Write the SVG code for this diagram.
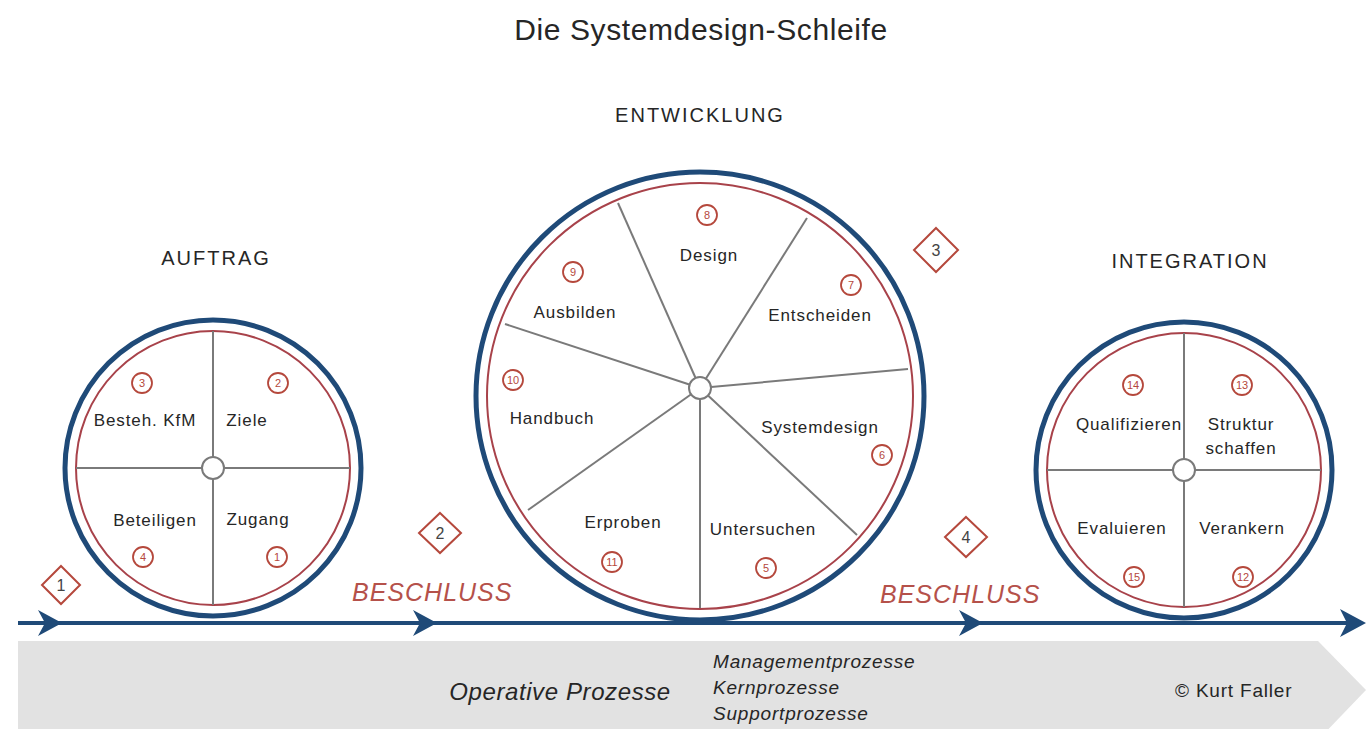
<svg xmlns="http://www.w3.org/2000/svg" width="1366" height="729" viewBox="0 0 1366 729">
<defs>
<style>
.t{font-family:"Liberation Sans",Arial,sans-serif;fill:#262626}
.title{font-size:30px;letter-spacing:0.6px}
.phase{font-size:20px;letter-spacing:2px}
.lbl{font-size:17px;letter-spacing:0.9px}
.num{font-family:"Liberation Sans",Arial,sans-serif;font-size:11px;fill:#b5483c;text-anchor:middle}
.nc{fill:#fff;stroke:#b5483c;stroke-width:1.8}
.outer{fill:#fff;stroke:#1f4a78;stroke-width:5}
.inner{fill:none;stroke:#a8424a;stroke-width:2}
.spoke{stroke:#7a7a7a;stroke-width:2}
.hub{fill:#fff;stroke:#7a7a7a;stroke-width:2}
.dia{fill:#fff;stroke:#b5483c;stroke-width:2}
.dnum{font-family:"Liberation Sans",Arial,sans-serif;font-size:16px;fill:#444;text-anchor:middle}
.besch{font-family:"Liberation Sans",Arial,sans-serif;font-size:25px;font-style:italic;fill:#b5514a;letter-spacing:1px}
.it{font-family:"Liberation Sans",Arial,sans-serif;font-style:italic;fill:#262626}
.ah{fill:#1f4a78}
</style>
</defs>
<rect width="1366" height="729" fill="#fff"/>
<polygon points="18,641 1318,641 1366,690 1318,740 18,740" fill="#e2e2e2"/>
<text class="t title" x="701" y="40" text-anchor="middle">Die Systemdesign-Schleife</text>
<text class="t phase" x="700" y="122" text-anchor="middle">ENTWICKLUNG</text>
<text class="t phase" x="216" y="265" text-anchor="middle">AUFTRAG</text>
<text class="t phase" x="1190" y="268" text-anchor="middle">INTEGRATION</text>
<g id="connectors">
<line x1="18" y1="623" x2="1362" y2="623" stroke="#1f4a78" stroke-width="4"/>
<path class="ah" d="M62,623 L38,610 L45,623 L38,636 Z"/>
<path class="ah" d="M437,623 L413,610 L420,623 L413,636 Z"/>
<path class="ah" d="M983,623 L959,610 L966,623 L959,636 Z"/>
<path class="ah" d="M1366,623 L1340,609 L1347,623 L1340,637 Z"/>
</g>
<g id="auftrag">
<circle class="outer" cx="213" cy="468" r="148"/>
<circle class="inner" cx="213" cy="468" r="137"/>
<line class="spoke" x1="213" y1="331" x2="213" y2="605"/>
<line class="spoke" x1="76" y1="468" x2="350" y2="468"/>
<circle class="hub" cx="213" cy="468" r="11"/>
<text class="t lbl" x="145" y="426" text-anchor="middle">Besteh. KfM</text>
<text class="t lbl" x="247" y="426" text-anchor="middle">Ziele</text>
<text class="t lbl" x="155" y="526" text-anchor="middle">Beteiligen</text>
<text class="t lbl" x="258" y="525" text-anchor="middle">Zugang</text>
<circle class="nc" cx="142" cy="383" r="10"/><text class="num" x="142" y="387">3</text>
<circle class="nc" cx="278" cy="383" r="10"/><text class="num" x="278" y="387">2</text>
<circle class="nc" cx="143" cy="557" r="10"/><text class="num" x="143" y="561">4</text>
<circle class="nc" cx="277" cy="557" r="10"/><text class="num" x="277" y="561">1</text>
</g>
<g id="entwicklung">
<circle class="outer" cx="700" cy="396" r="224"/>
<circle class="inner" cx="700" cy="396" r="213"/>
<line class="spoke" x1="700" y1="388" x2="618" y2="203"/>
<line class="spoke" x1="700" y1="388" x2="807" y2="218"/>
<line class="spoke" x1="700" y1="388" x2="908" y2="369"/>
<line class="spoke" x1="700" y1="388" x2="857" y2="535"/>
<line class="spoke" x1="700" y1="388" x2="700" y2="608"/>
<line class="spoke" x1="700" y1="388" x2="528" y2="510"/>
<line class="spoke" x1="700" y1="388" x2="505" y2="324"/>
<circle class="hub" cx="700" cy="388" r="11"/>
<text class="t lbl" x="709" y="261" text-anchor="middle">Design</text>
<text class="t lbl" x="575" y="318" text-anchor="middle">Ausbilden</text>
<text class="t lbl" x="820" y="321" text-anchor="middle">Entscheiden</text>
<text class="t lbl" x="552" y="424" text-anchor="middle">Handbuch</text>
<text class="t lbl" x="820" y="433" text-anchor="middle">Systemdesign</text>
<text class="t lbl" x="623" y="528" text-anchor="middle">Erproben</text>
<text class="t lbl" x="763" y="535" text-anchor="middle">Untersuchen</text>
<circle class="nc" cx="707" cy="215" r="10"/><text class="num" x="707" y="219">8</text>
<circle class="nc" cx="573" cy="272" r="10"/><text class="num" x="573" y="276">9</text>
<circle class="nc" cx="851" cy="285" r="10"/><text class="num" x="851" y="289">7</text>
<circle class="nc" cx="513" cy="380" r="10"/><text class="num" x="513" y="384">10</text>
<circle class="nc" cx="882" cy="455" r="10"/><text class="num" x="882" y="459">6</text>
<circle class="nc" cx="612" cy="562" r="10"/><text class="num" x="612" y="566">11</text>
<circle class="nc" cx="766" cy="568" r="10"/><text class="num" x="766" y="572">5</text>
</g>
<g id="integration">
<circle class="outer" cx="1184" cy="470" r="148"/>
<circle class="inner" cx="1184" cy="470" r="137"/>
<line class="spoke" x1="1184" y1="333" x2="1184" y2="607"/>
<line class="spoke" x1="1047" y1="470" x2="1321" y2="470"/>
<circle class="hub" cx="1184" cy="470" r="11"/>
<text class="t lbl" x="1129" y="430" text-anchor="middle">Qualifizieren</text>
<text class="t lbl" x="1241" y="430" text-anchor="middle">Struktur</text>
<text class="t lbl" x="1241" y="454" text-anchor="middle">schaffen</text>
<text class="t lbl" x="1122" y="534" text-anchor="middle">Evaluieren</text>
<text class="t lbl" x="1242" y="534" text-anchor="middle">Verankern</text>
<circle class="nc" cx="1133" cy="385" r="10"/><text class="num" x="1133" y="389">14</text>
<circle class="nc" cx="1242" cy="385" r="10"/><text class="num" x="1242" y="389">13</text>
<circle class="nc" cx="1134" cy="577" r="10"/><text class="num" x="1134" y="581">15</text>
<circle class="nc" cx="1243" cy="577" r="10"/><text class="num" x="1243" y="581">12</text>
</g>
<g id="milestone1"><polygon class="dia" points="61,566 80,585 61,604 42,585"/><text class="dnum" x="61" y="591">1</text></g>
<g id="milestone2"><polygon class="dia" points="440,513 461,533 440,553 419,533"/><text class="dnum" x="440" y="539">2</text></g>
<g id="milestone3"><polygon class="dia" points="936,228 958,250 936,272 914,250"/><text class="dnum" x="936" y="256">3</text></g>
<g id="milestone4"><polygon class="dia" points="966,517 987,537 966,557 945,537"/><text class="dnum" x="966" y="543">4</text></g>
<text class="besch" x="352" y="601">BESCHLUSS</text>
<text class="besch" x="880" y="603">BESCHLUSS</text>
<g id="prozesse">
<text class="it" x="560" y="700" font-size="24" letter-spacing="0.6" text-anchor="middle">Operative Prozesse</text>
<text class="it" x="713" y="668" font-size="19" letter-spacing="0.8">Managementprozesse</text>
<text class="it" x="713" y="694" font-size="19" letter-spacing="0.8">Kernprozesse</text>
<text class="it" x="713" y="720" font-size="19" letter-spacing="0.8">Supportprozesse</text>
<text class="t" x="1175" y="697" font-size="19" letter-spacing="0.8">© Kurt Faller</text>
</g>
</svg>
